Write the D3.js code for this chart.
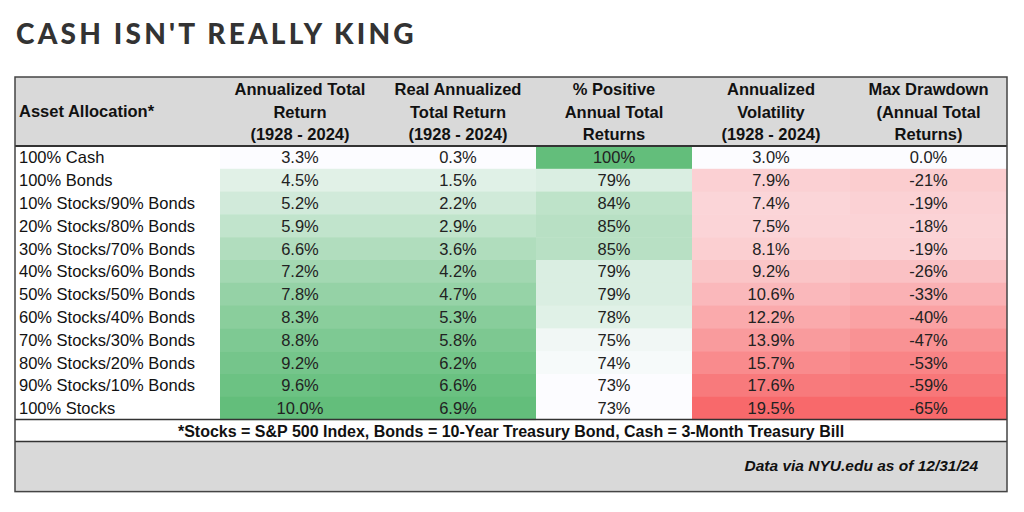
<!DOCTYPE html>
<html><head><meta charset="utf-8">
<script src="https://cdn.jsdelivr.net/npm/d3@7"></script>
<style>body{margin:0;background:#fff}</style>
</head><body><svg id="c" width="1024" height="512"></svg>
<script>
const allocations = ["100% Cash","100% Bonds","10% Stocks/90% Bonds","20% Stocks/80% Bonds","30% Stocks/70% Bonds","40% Stocks/60% Bonds","50% Stocks/50% Bonds","60% Stocks/40% Bonds","70% Stocks/30% Bonds","80% Stocks/20% Bonds","90% Stocks/10% Bonds","100% Stocks"];
const totalReturn = [3.3,4.5,5.2,5.9,6.6,7.2,7.8,8.3,8.8,9.2,9.6,10.0];
const realReturn = [0.3,1.5,2.2,2.9,3.6,4.2,4.7,5.3,5.8,6.2,6.6,6.9];
const pctPositive = [100,79,84,85,85,79,79,78,75,74,73,73];
const volatility = [3.0,7.9,7.4,7.5,8.1,9.2,10.6,12.2,13.9,15.7,17.6,19.5];
const maxDrawdown = [0,-21,-19,-18,-19,-26,-33,-40,-47,-53,-59,-65];
const headers = [["Asset Allocation*"],["Annualized Total","Return","(1928 - 2024)"],["Real Annualized","Total Return","(1928 - 2024)"],["% Positive","Annual Total","Returns"],["Annualized","Volatility","(1928 - 2024)"],["Max Drawdown","(Annual Total","Returns)"]];

const svg = d3.select("#c");
const font = "'Liberation Sans', Arial, sans-serif";
svg.append("text").attr("x",16).attr("y",44).attr("fill","#333")
  .style("font-family","Lato, sans-serif").style("font-weight",900).style("font-size","28px")
  .style("letter-spacing","3.2px").text("CASH ISN'T REALLY KING");

const colEdges = [15,220,380,536,692,850,1007];
const tableTop = 77, headH = 69, rowH = 22.8;
const y = d3.scaleBand().domain(d3.range(allocations.length)).range([tableTop+headH, tableTop+headH+rowH*allocations.length]);
const tableBottom = y.range()[1];

// header bg
svg.append("rect").attr("x",15).attr("y",tableTop).attr("width",992).attr("height",headH).attr("fill","#d9d9d9");
headers.forEach((h,i)=>{
  const x0=colEdges[i], x1=colEdges[i+1];
  const t = svg.append("text").style("font-family",font).style("font-weight","bold").style("font-size","16.5px").attr("fill","#111");
  if(i===0){ t.attr("x",x0+4).attr("y",tableTop+40).text(h[0]); return; }
  h.forEach((line,k)=>t.append("tspan").attr("x",(x0+x1)/2).attr("y",tableTop+18+k*22.5).attr("text-anchor","middle").text(line));
});

const green = "#63BE7B", red = "#F8696B", white = "#FCFCFF";
const cols = [
  {v:totalReturn, f:d=>d.toFixed(1)+"%", c:green},
  {v:realReturn, f:d=>d.toFixed(1)+"%", c:green},
  {v:pctPositive, f:d=>d+"%", c:green},
  {v:volatility, f:d=>d.toFixed(1)+"%", c:red},
  {v:maxDrawdown.map(d=>-d), f:d=>(d===0?"0.0":"-"+d)+"%", c:red}
];
cols.forEach((col,ci)=>{
  const sc = d3.scaleLinear().domain(d3.extent(col.v)).range([white,col.c]).interpolate(d3.interpolateRgb);
  const x0=colEdges[ci+1], x1=colEdges[ci+2];
  const g = svg.append("g");
  g.selectAll("rect").data(col.v).join("rect").attr("x",x0).attr("y",(d,i)=>y(i)).attr("width",x1-x0).attr("height",y.bandwidth()+0.5).attr("fill",d=>sc(d));
  g.selectAll("text").data(col.v).join("text").attr("x",(x0+x1)/2).attr("y",(d,i)=>y(i)+y.bandwidth()/2+6)
   .attr("text-anchor","middle").style("font-family",font).style("font-size","16.5px").attr("fill","#222").text(d=>col.f(d));
});
svg.append("g").selectAll("text").data(allocations).join("text").attr("x",19).attr("y",(d,i)=>y(i)+y.bandwidth()/2+6)
  .style("font-family",font).style("font-size","16.5px").attr("fill","#111").text(d=>d);

// footnote and source rows
svg.append("text").attr("x",511).attr("y",tableBottom+17).attr("text-anchor","middle").style("font-family",font).style("font-weight","bold").style("font-size","16px").attr("fill","#111")
  .text("*Stocks = S&P 500 Index, Bonds = 10-Year Treasury Bond, Cash = 3-Month Treasury Bill");
svg.append("rect").attr("x",15).attr("y",tableBottom+22).attr("width",992).attr("height",50).attr("fill","#d9d9d9");
svg.append("text").attr("x",978).attr("y",tableBottom+51).attr("text-anchor","end").style("font-family",font).style("font-weight","bold").style("font-style","italic").style("font-size","15.5px").attr("fill","#111")
  .text("Data via NYU.edu as of 12/31/24");

// borders
const ln=(x1,y1,x2,y2,w,c)=>svg.append("line").attr("x1",x1).attr("y1",y1).attr("x2",x2).attr("y2",y2).attr("stroke",c||"#333").attr("stroke-width",w);
ln(15,tableTop+headH,1007,tableTop+headH,2);
ln(15,tableBottom,1007,tableBottom,1.5);
ln(15,tableBottom+22,1007,tableBottom+22,1.5);
svg.append("rect").attr("x",15).attr("y",tableTop).attr("width",992).attr("height",tableBottom+72-tableTop).attr("fill","none").attr("stroke","#444").attr("stroke-width",1.5);
</script></body></html>
